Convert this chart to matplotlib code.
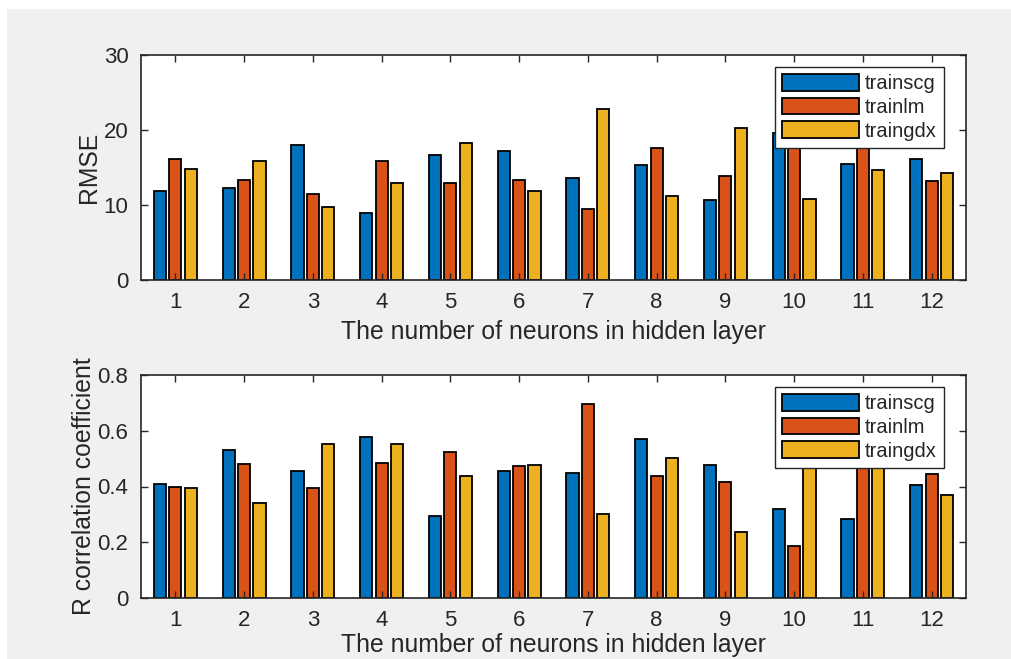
import numpy as np
import matplotlib
matplotlib.use('Agg')
import matplotlib.pyplot as plt
from matplotlib.patches import Rectangle

plt.rcParams['font.family'] = ['Liberation Sans', 'DejaVu Sans']

neurons = [1, 2, 3, 4, 5, 6, 7, 8, 9, 10, 11, 12]
series_names = ['trainscg', 'trainlm', 'traingdx']

rmse_trainscg = [11.9, 12.3, 18.05, 8.9, 16.6, 17.2, 13.6, 15.3, 10.6, 19.6, 15.5, 16.1]
rmse_trainlm = [16.1, 13.3, 11.4, 15.9, 12.9, 13.3, 9.5, 17.6, 13.8, 20.5, 19.5, 13.2]
rmse_traingdx = [14.8, 15.9, 9.7, 12.9, 18.2, 11.8, 22.8, 11.2, 20.2, 10.8, 14.6, 14.2]

r_trainscg = [0.409, 0.531, 0.456, 0.576, 0.295, 0.454, 0.448, 0.570, 0.478, 0.318, 0.283, 0.404]
r_trainlm = [0.398, 0.480, 0.393, 0.484, 0.525, 0.472, 0.697, 0.438, 0.415, 0.185, 0.55, 0.444]
r_traingdx = [0.393, 0.341, 0.552, 0.552, 0.438, 0.478, 0.300, 0.501, 0.237, 0.55, 0.53, 0.369]

colors = ['#0072BD', '#D95319', '#EDB120']
txt = '#262626'

fig = plt.figure(figsize=(10.11, 6.59), dpi=100, facecolor='white')
fig.patches.append(Rectangle((7 / 1011, 0), 1, 1 - 9 / 659, transform=fig.transFigure,
                             facecolor='#f0f0f0', edgecolor='none', zorder=-10))

ax1 = fig.add_axes([141 / 1011, 1 - 280 / 659, 825 / 1011, 225 / 659])
ax2 = fig.add_axes([141 / 1011, 1 - 598 / 659, 825 / 1011, 223 / 659])


def draw(ax, data, ylim, yticks, yticklabels, ylabel, ypad, xpad):
    x = np.array(neurons)
    w = 0.8 * (2 / 3) / 3
    for i, vals in enumerate(data):
        ax.bar(x + (i - 1) * (2 / 9), vals, width=w, color=colors[i],
               edgecolor='black', linewidth=1.3, label=series_names[i])
    ax.set_xlim(0.5, 12.5)
    ax.set_ylim(*ylim)
    ax.set_xticks(neurons)
    ax.set_yticks(yticks)
    ax.set_yticklabels(yticklabels)
    ax.tick_params(direction='in', top=True, right=True, length=5, width=1,
                   colors=txt, labelsize=16, pad=9)
    for s in ax.spines.values():
        s.set_color(txt)
        s.set_linewidth(1.2)
    ax.set_xlabel('The number of neurons in hidden layer', fontsize=17.8, color=txt, labelpad=xpad)
    ax.set_ylabel(ylabel, fontsize=17.8, color=txt, labelpad=ypad)
    leg = ax.legend(loc='upper right', bbox_to_anchor=(0.973, 0.947), fontsize=14.5,
                    handlelength=3.8, handleheight=0.9, handletextpad=0.3,
                    labelspacing=0.22, borderpad=0.35, borderaxespad=0,
                    fancybox=False, framealpha=1)
    leg.get_frame().set_edgecolor(txt)
    leg.get_frame().set_linewidth(1.0)
    for t in leg.get_texts():
        t.set_color(txt)


draw(ax1, [rmse_trainscg, rmse_trainlm, rmse_traingdx], (0, 30), [0, 10, 20, 30],
     ['0', '10', '20', '30'], 'RMSE', 2, 5)
draw(ax2, [r_trainscg, r_trainlm, r_traingdx], (0, 0.8), [0, 0.2, 0.4, 0.6, 0.8],
     ['0', '0.2', '0.4', '0.6', '0.8'], 'R correlation coefficient', 1, 1)

fig.savefig('out.png', dpi=100, facecolor=fig.get_facecolor())
